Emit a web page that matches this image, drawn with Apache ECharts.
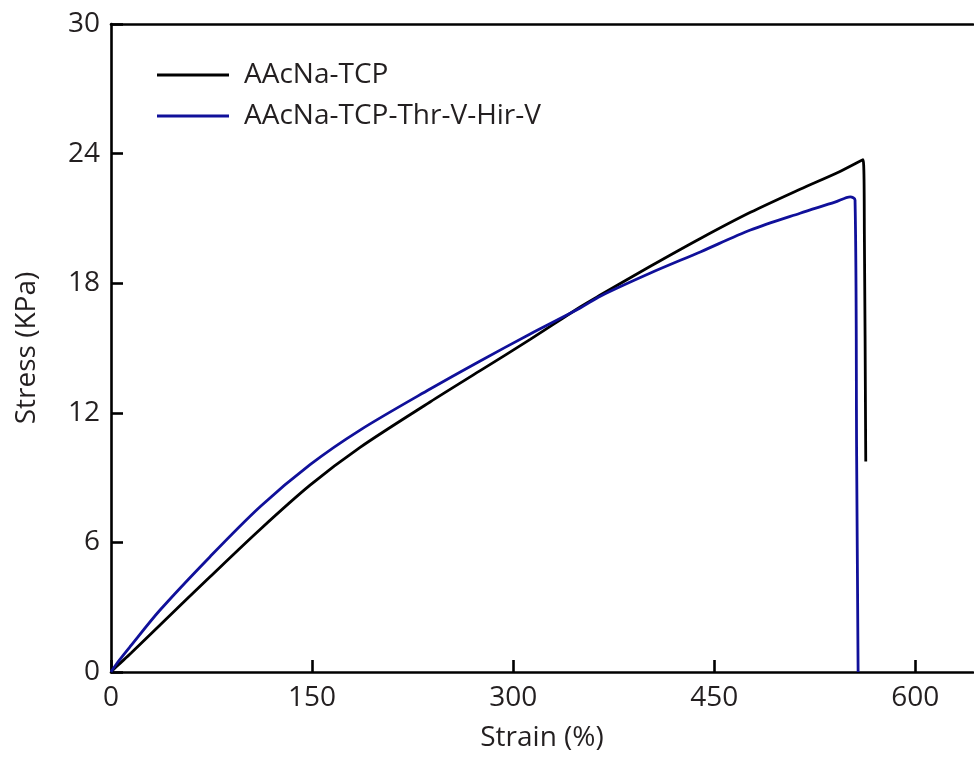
<!DOCTYPE html>
<html>
<head>
<meta charset="utf-8">
<script src="https://cdn.jsdelivr.net/npm/echarts@6/dist/echarts.min.js"></script>
<style>
html,body{margin:0;padding:0;background:#fff;}
#chart{width:974px;height:758px;}
</style>
</head>
<body>
<div id="chart"></div>
<script>
var seriesNames = ['AAcNa-TCP', 'AAcNa-TCP-Thr-V-Hir-V'];
var xTicks = [0, 150, 300, 450, 600];
var yTicks = [0, 6, 12, 18, 24, 30];

var strainA = [0, 5, 15, 36.6, 73.9, 111.2, 148.5, 185.8, 238, 275.4, 312.7, 350, 365, 402, 440, 477, 514, 543, 561, 562, 563];
var stressA = [0, 0.3, 0.88, 2.18, 4.41, 6.6, 8.65, 10.4, 12.5, 13.95, 15.4, 16.9, 17.45, 18.77, 20.08, 21.28, 22.35, 23.15, 23.72, 20.0, 9.75];

var strainB = [0, 5, 14.2, 36.6, 73.9, 111.2, 148.5, 185.8, 238, 275.4, 312.7, 350, 365, 402, 440, 477, 514, 540, 551.5, 555, 556.2, 557.3];
var stressB = [0, 0.45, 1.17, 2.87, 5.34, 7.65, 9.6, 11.2, 13.1, 14.4, 15.65, 16.85, 17.4, 18.46, 19.46, 20.46, 21.24, 21.75, 22.0, 21.85, 10.0, 0];

function pairs(xs, ys){ var out=[]; for(var i=0;i<xs.length;i++){ out.push([xs[i], ys[i]]); } return out; }

var txt = '#231f20';
var font = 'Open Sans';
var xMax = 643;
var chart = echarts.init(document.getElementById('chart'));
chart.setOption({
  animation: false,
  backgroundColor: '#fff',
  grid: { left: 111, top: 24, right: 1, height: 648, show: false },
  legend: {
    orient: 'vertical', left: 152, top: 56,
    icon: 'rect', itemWidth: 72, itemHeight: 3, itemGap: 13,
    textStyle: { color: txt, fontSize: 28, fontFamily: font, lineHeight: 28, padding: [0,0,0,10] },
    data: seriesNames
  },
  xAxis: [{
    type: 'value', min: 0, max: xMax, interval: 150,
    name: 'Strain (%)', nameLocation: 'middle', nameGap: 52,
    nameTextStyle: { color: txt, fontSize: 28, fontFamily: font },
    axisLine: { show: true, onZero: false, lineStyle: { color: '#000', width: 2.6 } },
    axisTick: { show: true, inside: true, length: 12, lineStyle: { color: '#000', width: 2.6 } },
    axisLabel: { color: txt, fontSize: 28, fontFamily: font, margin: 12, showMaxLabel: false },
    splitLine: { show: false }
  }, {
    type: 'value', position: 'top', min: 0, max: xMax, interval: 150,
    axisLine: { show: true, onZero: false, lineStyle: { color: '#000', width: 2.6 } },
    axisTick: { show: false }, axisLabel: { show: false }, splitLine: { show: false }
  }],
  yAxis: {
    type: 'value', min: 0, max: 30, interval: 6,
    name: 'Stress (KPa)', nameLocation: 'middle', nameGap: 70,
    nameTextStyle: { color: txt, fontSize: 28, fontFamily: font },
    axisLine: { show: true, onZero: false, lineStyle: { color: '#000', width: 2.6 } },
    axisTick: { show: true, inside: true, length: 12, lineStyle: { color: '#000', width: 2.6 } },
    axisLabel: { color: txt, fontSize: 28, fontFamily: font, margin: 11 },
    splitLine: { show: false }
  },
  series: [
    { name: seriesNames[0], type: 'line', data: pairs(strainA, stressA), symbol: 'none', smooth: 0.3,
      lineStyle: { color: '#000', width: 2.8 }, itemStyle: { color: '#000' } },
    { name: seriesNames[1], type: 'line', data: pairs(strainB, stressB), symbol: 'none', smooth: 0.3,
      lineStyle: { color: '#10109a', width: 2.8 }, itemStyle: { color: '#10109a' } }
  ]
});
</script>
</body>
</html>
